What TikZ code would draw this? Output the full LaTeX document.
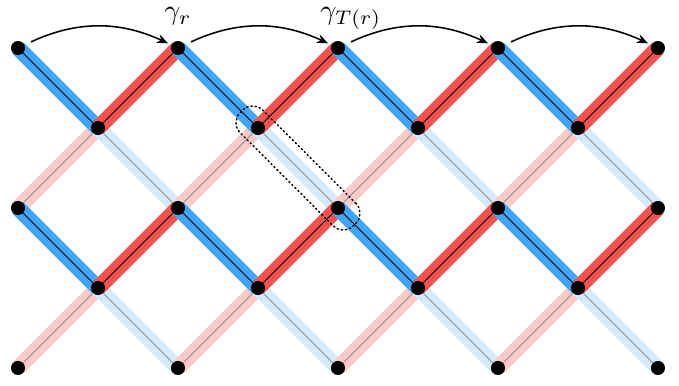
\documentclass[tikz,border=0pt]{standalone}
\usepackage{amsmath,amssymb}
\usetikzlibrary{arrows.meta,backgrounds,calc}
\definecolor{bandblue}{HTML}{42A5F5}
\definecolor{bandred}{HTML}{EF5350}
\tikzset{
  every picture/.style={line join=round, line cap=round, >=Stealth},
  vert/.style={circle, fill=black, inner sep=0pt, minimum size=5pt},
  band/.style={line width=5.6pt},
  strongblue/.style={band, draw=bandblue},
  strongred/.style={band, draw=bandred},
  fadeblue/.style={band, draw=bandblue!22},
  fadered/.style={band, draw=bandred!30},
  wire/.style={draw=black, line width=0.35pt},
  fadewire/.style={draw=black!45, line width=0.35pt},
  hop/.style={-{Stealth[length=4pt,width=3.2pt]}, line width=0.55pt, bend left=25, shorten <=2.5pt, shorten >=1.2pt},
  pairbox/.style={draw, densely dotted, line width=0.5pt, rounded corners=5pt, rotate=-45, minimum width=2cm, minimum height=0.4cm, inner sep=0pt},
}

\begin{document}
\begin{tikzpicture}
\useasboundingbox (-0.225,-4.225) rectangle (8.2625,0.6);
\foreach \row in {0,2,4} {\foreach \col in {0,2,...,8} {\node[vert] (n\col-\row) at (\col,-\row) {};}}
\foreach \row in {1,3} {\foreach \col in {1,3,...,7} {\node[vert] (n\col-\row) at (\col,-\row) {};}}
\begin{scope}[on background layer]
\foreach \row in {1,3} {
  \foreach \col in {1,3,5,7} {
    \pgfmathtruncatemacro\rowup{\row-1}
    \pgfmathtruncatemacro\rowdn{\row+1}
    \pgfmathtruncatemacro\colL{\col-1}
    \pgfmathtruncatemacro\colR{\col+1}
    \draw[fadered] (n\col-\row.center) -- (n\colL-\rowdn.center);
    \draw[fadewire] (n\col-\row.center) -- (n\colL-\rowdn.center);
    \draw[fadeblue] (n\col-\row.center) -- (n\colR-\rowdn.center);
    \draw[fadewire] (n\col-\row.center) -- (n\colR-\rowdn.center);
    \draw[strongblue] (n\colL-\rowup.center) -- (n\col-\row.center);
    \draw[wire] (n\colL-\rowup.center) -- (n\col-\row.center);
    \draw[strongred] (n\col-\row.center) -- (n\colR-\rowup.center);
    \draw[wire] (n\col-\row.center) -- (n\colR-\rowup.center);
  }
}
\end{scope}
\foreach \from/\dest in {0/2,2/4,4/6,6/8} {\draw[hop] (n\from-0) to (n\dest-0);}
\node[anchor=base, yshift=10pt] (gr) at (n2-0) {$\gamma_r$};
\node[anchor=base, yshift=10pt, xshift=4.6pt] (gtr) at (n4-0) {$\gamma_{T(r)}$};
\node[pairbox] (pair) at ($(n3-1)!0.5!(n4-2)$) {};
\end{tikzpicture}
\end{document}
